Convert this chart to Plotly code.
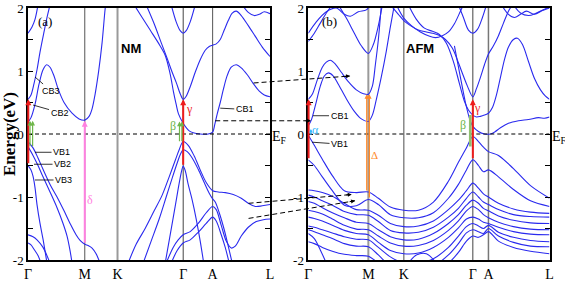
import plotly.graph_objects as go

# ---------------- data ----------------
tick_labels = ["Γ", "M", "K", "Γ", "A", "L"]
nm_ticks = [0, 56.7, 89.4, 155, 184.4, 241.7]
afm_ticks = [0, 60, 95.4, 164.4, 180, 241]
y_tickvals = [-2, -1.5, -1, -0.5, 0, 0.5, 1, 1.5, 2]
y_ticktext = ["-2", "", "-1", "", "0", "", "1", "", "2"]

# NM bands: (k, E[eV]) pairs
nm_cb_g1 = [(0, 1.60), (4, 1.70), (7, 1.82), (10, 2.05)]
nm_cb3 = [(0, 0.55), (3, 0.62), (6, 0.8), (9, 1.02), (12, 1.3), (16, 1.62), (19, 1.85), (22, 2.05)]
nm_cb2 = [(0, 0.19), (3, 0.26), (7, 0.47), (11, 0.79), (15, 1.02), (18.7, 1.1), (22, 1.06), (26, 0.92),
          (30, 0.72), (36, 0.5), (44, 0.33), (51, 0.24), (56.7, 0.22), (61, 0.28), (64, 0.4), (67, 0.63),
          (70.5, 0.99), (74, 1.45), (77, 1.98), (78, 2.1)]
nm_vb1 = [(0, -0.12), (5, -0.22), (10, -0.38), (15, -0.56), (22, -0.8), (29, -1.0), (36, -1.22), (42, -1.42),
          (48, -1.6), (52, -1.69), (56.7, -1.75), (60, -1.77), (64, -1.81), (68, -1.9), (72, -2.05)]
nm_vb2 = [(0, -0.2), (5, -0.34), (10, -0.5), (15, -0.68), (22, -0.92), (29, -1.17), (35, -1.42), (39, -1.62),
          (42, -1.85), (44, -2.05)]
nm_vb3 = [(0, -0.5), (3, -0.57), (5, -0.67), (7, -0.85), (9, -1.12), (12, -1.42), (15, -1.67), (19, -2.05)]
nm_vb4 = [(0, -1.6), (5, -1.63), (9, -1.68), (15, -1.8), (22, -2.05)]
nm_vb5 = [(0, -1.73), (3, -1.76), (6, -1.83), (10, -1.93), (13, -2.05)]
nm_kg_vb1 = [(100, -2.05), (108, -1.75), (117, -1.5), (126, -1.22), (134, -0.97), (141, -0.68), (147, -0.42),
             (151, -0.25), (155, -0.12), (160, -0.18), (166, -0.35), (172, -0.57), (178, -0.77), (184.4, -0.9),
             (190, -0.92), (197, -0.93), (205, -0.96), (213, -1.02), (220, -1.1), (227, -1.15), (234, -1.14),
             (241.7, -1.12)]
nm_kg_vb2 = [(115, -2.05), (123, -1.7), (131, -1.35), (138, -1.0), (144, -0.7), (149, -0.46), (152, -0.33),
             (155, -0.25), (159, -0.28), (164, -0.38), (170, -0.56), (176, -0.77), (181, -0.94), (184.4, -1.03),
             (187, -1.08), (191, -1.25), (196, -1.52), (200, -1.78), (204, -2.05)]
nm_kg_vb3 = [(137, -2.05), (142, -1.6), (147, -1.15), (151, -0.78), (153.5, -0.58), (155, -0.51), (157, -0.58),
             (160, -0.8), (164, -1.05), (168, -1.35), (172, -1.7), (175.5, -2.05)]
nm_kg_vb4 = [(138, -2.05), (145, -1.8), (150, -1.68), (155, -1.6), (162, -1.55), (170, -1.42), (178, -1.25),
             (184.4, -1.15), (188, -1.2), (193, -1.45), (198, -1.7), (203, -1.81), (207, -1.78), (213, -1.62),
             (220, -1.48), (228, -1.39), (235, -1.36), (241.7, -1.35)]
nm_kg_vb5 = [(143, -2.05), (149, -1.85), (155, -1.73), (162, -1.68), (170, -1.56), (178, -1.42), (184.4, -1.32),
             (188, -1.38), (193, -1.6), (197, -1.8), (201, -2.05)]
nm_cb_gamma = [(118, 2.05), (126, 1.75), (133, 1.45), (139, 1.2), (144, 0.98), (148, 0.82), (152, 0.64),
               (155, 0.55), (158, 0.6), (162, 0.75), (167, 0.98), (172, 1.18), (177, 1.33), (181, 1.39),
               (184.4, 1.41), (188, 1.43), (192, 1.5), (196, 1.65), (200, 1.8), (204, 1.92), (208, 1.95),
               (213, 1.88), (220, 1.72), (227, 1.55), (234, 1.38), (241.7, 1.23)]
nm_cb1 = [(106, 2.05), (114, 1.85), (122, 1.65), (130, 1.45), (137, 1.25), (142, 0.95), (145.3, 0.67),
          (148, 0.47), (150.3, 0.32), (155, 0.17), (158, 0.1), (161, 0.05), (165, 0.02), (172, 0.0), (180, 0.0),
          (184.4, 0.03), (186.5, 0.15), (189, 0.32), (192, 0.5), (195.3, 0.72), (199, 0.93), (203, 1.06),
          (208, 1.1), (213, 1.05), (219, 0.94), (225, 0.8), (231, 0.68), (236, 0.62), (241.7, 0.59)]
nm_cb_u = [(143, 2.05), (148, 1.78), (152, 1.64), (155, 1.6), (158, 1.64), (162, 1.78), (167, 2.05)]
nm_cb_top = [(214, 2.05), (220, 1.93), (226, 1.88), (231, 1.9), (236, 1.94), (241.7, 1.91)]

# AFM conduction bands
afm_cb1 = [(0, 0.13), (3, 0.22), (7, 0.45), (12, 0.76), (16, 0.92), (20, 0.97), (25, 0.92), (30, 0.79),
           (38, 0.56), (46, 0.36), (53, 0.24), (60, 0.2), (64, 0.3), (68, 0.55), (73, 0.91), (78, 1.32),
           (82, 1.7), (86, 2.05)]
afm_cb2 = [(0, 0.55), (4, 0.63), (9, 0.86), (14, 1.06), (18, 1.14), (22, 1.17), (27, 1.11), (33, 0.98),
           (40, 0.83), (48, 0.7), (55, 0.64), (60, 0.63), (64, 0.76), (67, 1.1), (70, 1.5), (73, 2.05)]
afm_cb3 = [(0, 1.47), (6, 1.6), (12, 1.76), (18, 1.92), (24, 2.05)]
afm_cb4 = [(0, 1.6), (8, 1.78), (18, 1.94), (28, 2.0), (36, 1.9), (42, 1.87), (50, 1.94), (58, 1.97), (62, 2.05)]
afm_cb5 = [(30, 2.05), (38, 1.84), (46, 1.6), (53, 1.4), (60, 1.28), (65, 1.42), (70, 1.72), (74, 2.05)]
afm_cb6 = [(82, 2.05), (90, 1.9), (95.4, 1.8), (102, 1.72), (110, 1.65), (118, 1.62), (124, 1.6), (130, 1.57),
           (137, 1.5), (144, 1.36), (150, 1.13), (155, 0.92), (159, 0.76), (164.4, 0.59), (168, 0.72),
           (172, 0.9), (176, 1.1), (180, 1.27), (185, 1.4), (190, 1.56), (195, 1.76), (200, 1.95), (204, 2.05)]
afm_cb7 = [(88, 2.05), (95.4, 1.84), (103, 1.72), (112, 1.62), (120, 1.56), (127, 1.53), (134, 1.56),
           (140, 1.62), (146, 1.75), (152, 1.95), (155, 2.05)]
afm_cb8 = [(100, 2.05), (108, 1.82), (116, 1.68), (124, 1.63), (131, 1.58), (138, 1.44), (145, 1.15),
           (151, 0.8), (156, 0.52), (160, 0.38), (164.4, 0.3), (168, 0.27), (172, 0.28), (176, 0.3), (180, 0.33),
           (184, 0.42), (188, 0.62), (192, 0.9), (196, 1.18), (200, 1.38), (205, 1.5), (209, 1.52), (214, 1.42),
           (220, 1.15), (226, 0.88), (232, 0.7), (237, 0.6), (241, 0.55)]
afm_cb9 = [(146, 1.4), (152, 0.9), (157, 0.5), (161, 0.25), (164.4, 0.12), (170, 0.04), (176, 0.0), (182, 0.0),
           (186, 0.03), (192, 0.1), (200, 0.17), (210, 0.21), (220, 0.23), (230, 0.26), (236, 0.25), (241, 0.27)]
afm_cb10 = [(150, 2.05), (155, 1.85), (160, 1.65), (164.4, 1.6), (169, 1.66), (174, 1.85), (178, 2.05)]
afm_cb11 = [(193, 2.05), (200, 1.9), (206, 1.85), (212, 1.9), (218, 1.95), (226, 1.9), (234, 1.96), (241, 2.0)]
afm_cb12 = [(205, 2.05), (212, 1.92), (220, 1.88), (228, 1.92), (236, 1.98), (241, 2.02)]

# AFM valence bands on a shared k grid
afm_kgrid = [0, 6, 14, 24, 36, 48, 60, 70, 82, 95.4, 110, 125, 140, 150, 158, 164.4, 170, 175, 180, 190, 205, 222, 241]
afm_vb1 = [-0.02, -0.18, -0.40, -0.66, -0.90, -0.93, -0.92, -1.02, -1.16, -1.21, -1.21, -1.08, -0.75, -0.45, -0.22, -0.04, -0.12, -0.21, -0.28, -0.34, -0.55, -0.82, -1.02]
afm_vb2 = [-0.41, -0.50, -0.68, -0.90, -1.13, -1.14, -1.04, -1.12, -1.28, -1.33, -1.33, -1.25, -1.02, -0.80, -0.57, -0.41, -0.50, -0.60, -0.57, -0.68, -0.88, -1.06, -1.15]
afm_vb3 = [-0.89, -0.90, -0.93, -0.99, -1.10, -1.20, -1.21, -1.29, -1.42, -1.47, -1.46, -1.38, -1.20, -1.05, -0.90, -0.78, -0.86, -0.95, -1.00, -1.10, -1.19, -1.24, -1.26]
afm_vb4 = [-0.97, -1.00, -1.06, -1.13, -1.23, -1.28, -1.29, -1.39, -1.53, -1.57, -1.56, -1.48, -1.32, -1.18, -1.02, -0.92, -1.00, -1.08, -1.12, -1.20, -1.28, -1.31, -1.32]
afm_vb5 = [-1.07, -1.10, -1.17, -1.25, -1.33, -1.40, -1.42, -1.52, -1.63, -1.68, -1.67, -1.58, -1.42, -1.28, -1.13, -1.05, -1.10, -1.18, -1.22, -1.30, -1.37, -1.41, -1.42]
afm_vb6 = [-1.21, -1.23, -1.27, -1.35, -1.45, -1.51, -1.52, -1.62, -1.73, -1.78, -1.77, -1.69, -1.53, -1.38, -1.22, -1.15, -1.20, -1.28, -1.33, -1.40, -1.47, -1.51, -1.52]
afm_vb7 = [-1.32, -1.34, -1.38, -1.45, -1.53, -1.58, -1.60, -1.72, -1.85, -1.90, -1.89, -1.80, -1.64, -1.49, -1.35, -1.32, -1.35, -1.40, -1.42, -1.48, -1.55, -1.59, -1.60]
afm_vb8 = [-1.46, -1.48, -1.52, -1.57, -1.63, -1.67, -1.68, -1.80, -1.95, -2.05, -2.05, -1.98, -1.80, -1.62, -1.47, -1.42, -1.46, -1.50, -1.45, -1.56, -1.64, -1.69, -1.71]
afm_vb9 = [-1.52, -1.55, -1.60, -1.66, -1.74, -1.78, -1.79, -1.92, -2.10, -2.20, -2.20, -2.10, -1.92, -1.74, -1.57, -1.52, -1.55, -1.58, -1.50, -1.62, -1.72, -1.78, -1.79]
afm_vb10 = [-1.71, -1.74, -1.80, -1.86, -1.91, -1.93, -1.94, -2.05, -2.20, -2.30, -2.30, -2.20, -2.05, -1.88, -1.70, -1.62, -1.64, -1.60, -1.55, -1.70, -1.80, -1.86, -1.90]
afm_extra1 = [(100, -2.05), (108, -1.92), (118, -1.9), (128, -2.05)]
afm_extra2 = [(0, -1.58), (6, -1.66), (12, -1.84), (18, -2.05)]

nm_bands = [nm_cb_g1, nm_cb3, nm_cb2, nm_vb1, nm_vb2, nm_vb3, nm_vb4, nm_vb5, nm_kg_vb1, nm_kg_vb2,
            nm_kg_vb3, nm_kg_vb4, nm_kg_vb5, nm_cb_gamma, nm_cb1, nm_cb_u, nm_cb_top]
afm_pair_bands = [afm_cb1, afm_cb2, afm_cb3, afm_cb4, afm_cb5, afm_cb6, afm_cb7, afm_cb8, afm_cb9, afm_cb10,
                  afm_cb11, afm_cb12, afm_extra1, afm_extra2]
afm_grid_bands = [afm_vb1, afm_vb2, afm_vb3, afm_vb4, afm_vb5, afm_vb6, afm_vb7, afm_vb8, afm_vb9, afm_vb10]

# ---------------- layout geometry ----------------
W, H = 565, 287
PX = {"a": (28.0, 270.0), "b": (308.3, 549.5)}
Y_TOP, Y_BOT = 8.0, 260.0
KMAX = {"a": nm_ticks[-1], "b": afm_ticks[-1]}
BLUE = "#2a2aee"
SERIF = "Liberation Serif, Times New Roman, serif"
SANS = "Liberation Sans, Arial, sans-serif"


def paper_xy(panel, k, e):
    x0, x1 = PX[panel]
    px = x0 + (k / KMAX[panel]) * (x1 - x0)
    py = Y_TOP + (2 - e) / 4 * (Y_BOT - Y_TOP)
    return px / W, 1 - py / H


fig = go.Figure()


def add_band(pairs, xa, ya):
    fig.add_trace(go.Scatter(x=[p[0] for p in pairs], y=[p[1] for p in pairs], mode="lines",
                             line=dict(color=BLUE, width=1.1, shape="spline", smoothing=0.9),
                             xaxis=xa, yaxis=ya, hoverinfo="skip", showlegend=False))


for b in nm_bands:
    add_band(b, "x", "y")
for b in afm_pair_bands:
    add_band(b, "x2", "y2")
for b in afm_grid_bands:
    add_band(list(zip(afm_kgrid, b)), "x2", "y2")

ydom = [1 - Y_BOT / H, 1 - Y_TOP / H]
axis_common = dict(showline=True, linecolor="black", linewidth=1.5, mirror=True, showgrid=False,
                   zeroline=False, ticks="", automargin=False,
                   tickfont=dict(family=SERIF, size=14, color="black"))
yaxis_common = dict(showline=True, linecolor="black", linewidth=1.5, mirror="ticks", showgrid=False,
                    zeroline=False, range=[-2, 2], tickvals=y_tickvals, ticktext=y_ticktext,
                    ticks="inside", ticklen=5, tickcolor="black", tickwidth=1, automargin=False,
                    tickfont=dict(family=SERIF, size=13, color="black"))
fig.update_layout(
    width=W, height=H, margin=dict(l=0, r=0, t=0, b=0, autoexpand=False),
    paper_bgcolor="white", plot_bgcolor="white", showlegend=False,
    xaxis=dict(domain=[PX["a"][0] / W, PX["a"][1] / W], range=[0, KMAX["a"]], anchor="y",
               tickvals=nm_ticks, ticktext=tick_labels, **axis_common),
    xaxis2=dict(domain=[PX["b"][0] / W, PX["b"][1] / W], range=[0, KMAX["b"]], anchor="y2",
                tickvals=afm_ticks, ticktext=tick_labels, **axis_common),
    yaxis=dict(domain=ydom, anchor="x", **yaxis_common),
    yaxis2=dict(domain=ydom, anchor="x2", **yaxis_common),
)

shapes = []
# high-symmetry vertical lines
nm_vline_style = [None, ("#555555", 1), ("#9a9a9a", 2), ("#444444", 1), ("#555555", 1), None]
afm_vline_style = [None, ("#9a9a9a", 2), ("#888888", 1.5), ("#444444", 1), ("#777777", 1.5), None]
for ticks, styles, xr, yr in [(nm_ticks, nm_vline_style, "x", "y"), (afm_ticks, afm_vline_style, "x2", "y2")]:
    for k, st in zip(ticks, styles):
        if st is None:
            continue
        shapes.append(dict(type="line", xref=xr, yref=yr, x0=k, x1=k, y0=-2, y1=2, layer="below",
                           line=dict(color=st[0], width=st[1])))
    shapes.append(dict(type="line", xref=xr, yref=yr, x0=0, x1=ticks[-1], y0=0, y1=0, layer="above",
                       line=dict(color="black", width=1, dash="4px,3px")))
# beta bar in AFM panel
shapes.append(dict(type="rect", xref="x2", yref="y2", x0=160.5, x1=163.2, y0=-0.2, y1=0.3,
                   fillcolor="#8fbf6f", line=dict(width=0), layer="above"))

annotations = []


def varrow(xr, yr, k, e0, e1, color, width, head=2, size=0.9):
    annotations.append(dict(xref=xr, yref=yr, axref=xr, ayref=yr, x=k, y=e1, ax=k, ay=e0, text="",
                            showarrow=True, arrowcolor=color, arrowwidth=width, arrowhead=head,
                            arrowsize=size, standoff=0, startstandoff=0))


RED = "#ee1c1c"
GREEN = "#6fb64a"
varrow("x", "y", 0.3, -0.49, 0.55, RED, 2, size=0.6)
varrow("x", "y", 2.0, -0.22, 0.21, GREEN, 1.2, size=0.8)
varrow("x", "y", 4.6, -0.22, 0.21, GREEN, 1.2, size=0.8)
varrow("x", "y", 56.7, -1.75, 0.21, "#ff80e0", 2, size=0.6)
varrow("x", "y", 155, -0.51, 0.55, RED, 2, size=0.6)
varrow("x", "y", 151.3, -0.14, 0.2, GREEN, 1.2, size=0.8)
varrow("x", "y", 153.7, -0.14, 0.2, GREEN, 1.2, size=0.8)
varrow("x2", "y2", 0.3, -0.41, 0.55, RED, 2, size=0.6)
varrow("x2", "y2", 2.6, -0.04, 0.08, "#33bbff", 1.2, size=0.6)
varrow("x2", "y2", 58.4, -0.92, 0.63, "#ff8a2a", 1.3, size=0.7)
varrow("x2", "y2", 61.0, -1.03, 0.63, "#ff8a2a", 1.3, size=0.7)
varrow("x2", "y2", 164.4, -0.41, 0.55, RED, 2, size=0.6)


def text(xr, yr, k, e, s, color="black", size=11, family=SERIF, **kw):
    annotations.append(dict(xref=xr, yref=yr, x=k, y=e, text=s, showarrow=False,
                            font=dict(family=family, size=size, color=color), **kw))


text("x", "y", 161, 0.39, "γ", RED, 12)
text("x", "y", 144.5, 0.13, "β", GREEN, 12)
text("x", "y", 62, -1.05, "δ", "#ff80e0", 12)
text("x2", "y2", 6.7, 0.06, "α", "#33bbff", 12)
text("x2", "y2", 169.2, 0.42, "γ", RED, 12)
text("x2", "y2", 154.2, 0.14, "β", GREEN, 12)
text("x2", "y2", 66.2, -0.34, "Δ", "#ff8a2a", 11)
text("x", "y", 17, 1.79, "(a)", size=13)
text("x2", "y2", 20.7, 1.79, "(b)", size=13)
text("x", "y", 103, 1.35, "<b>NM</b>", size=13, family=SANS)
text("x2", "y2", 111.2, 1.35, "<b>AFM</b>", size=13, family=SANS)


def leader(xr, yr, k, e, lk, le, s):
    annotations.append(dict(xref=xr, yref=yr, axref=xr, ayref=yr, x=k, y=e, ax=lk, ay=le, text=s,
                            showarrow=True, arrowhead=0, arrowwidth=0.8, arrowcolor="black", standoff=0,
                            font=dict(family=SANS, size=9, color="black")))


leader("x", "y", 7, 0.905, 22.5, 0.69, "CB3")
leader("x", "y", 5, 0.46, 31.5, 0.34, "CB2")
leader("x", "y", 7, -0.29, 33.5, -0.29, "VB1")
leader("x", "y", 6, -0.48, 34.5, -0.48, "VB2")
leader("x", "y", 7, -0.73, 35.5, -0.73, "VB3")
leader("x", "y", 192, 0.41, 216.5, 0.39, "CB1")
leader("x2", "y2", 4.7, 0.29, 31.2, 0.29, "CB1")
leader("x2", "y2", 3.7, -0.13, 31.2, -0.16, "VB1")

# E_F labels and y title
for panel in ["a", "b"]:
    xp, yp = paper_xy(panel, KMAX[panel], 0)
    annotations.append(dict(xref="paper", yref="paper", x=xp, y=yp + 7 / H, xanchor="left",
                            yanchor="top", text="E<sub>F</sub>", showarrow=False,
                            font=dict(family=SERIF, size=14, color="black")))
xp, yp = paper_xy("a", 0, 0)
annotations.append(dict(xref="paper", yref="paper", x=10 / W, y=yp, xanchor="center", yanchor="middle",
                        text="<b>Energy(eV)</b>", textangle=-90, showarrow=False,
                        font=dict(family=SERIF, size=17, color="black")))

# dashed arrows from NM to AFM
inter_arrows = [(("a", 225.3, 0.81), ("b", 41.7, 0.92)),
                (("a", 187.0, 0.21), ("b", 2.7, 0.21)),
                (("a", 220.3, -1.10), ("b", 43.4, -0.96)),
                (("a", 220.3, -1.34), ("b", 46.7, -1.06))]
for (pa, ka, ea), (pb, kb, eb) in inter_arrows:
    x0, y0 = paper_xy(pa, ka, ea)
    x1, y1 = paper_xy(pb, kb, eb)
    shapes.append(dict(type="line", xref="paper", yref="paper", x0=x0, y0=y0, x1=x1, y1=y1,
                       line=dict(color="black", width=1, dash="5px,3px")))
    dxp, dyp = (x1 - x0) * W, -(y1 - y0) * H
    L = (dxp ** 2 + dyp ** 2) ** 0.5
    annotations.append(dict(xref="paper", yref="paper", x=x1, y=y1, ax=-dxp / L * 7, ay=-dyp / L * 7,
                            text="", showarrow=True, arrowhead=2, arrowsize=0.8, arrowwidth=1,
                            arrowcolor="black", standoff=0))

fig.update_layout(shapes=shapes, annotations=annotations)
fig.write_html("out.html", config={"displayModeBar": False},
               post_script="document.body.style.margin='0';document.body.style.padding='0';")
